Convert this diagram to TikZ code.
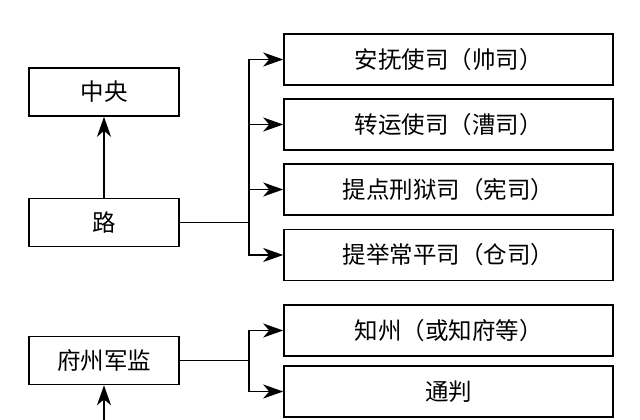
\documentclass[tikz,border=0pt]{standalone}
\usepackage{fontspec}
\newfontfamily\cjk{Noto Sans CJK SC}
\usetikzlibrary{arrows.meta}
\tikzset{
  box/.style={draw,line width=1.6pt,inner sep=0pt,font=\cjk\fontsize{23.5}{24}\selectfont},
  lbox/.style={box,minimum width=150pt,minimum height=48pt},
  rbox/.style={box,minimum width=329pt,minimum height=51pt},
  link/.style={line width=1.6pt,-{Stealth[length=20pt,width=14pt,inset=6pt]}}
}
\begin{document}
\begin{tikzpicture}[x=1pt,y=-1pt]
      \useasboundingbox (0,0) rectangle (640,420);

      % left column
      \node[lbox] (zy) at (104,92) {中央};
      \node[lbox] (lu) at (104,222.5) {路};
      \node[lbox] (fz) at (104,360.5) {府州军监};
      \coordinate (bot) at (104,421);

      % right column
      \foreach \n/\y/\t in {s1/59.5/安抚使司（帅司）, s2/124.5/转运使司（漕司）,
          s3/189.5/提点刑狱司（宪司）, s4/255/提举常平司（仓司）,
          z1/330.5/知州（或知府等）, z2/391.5/通判}{%
        \node[rbox] (\n) at (448.5,\y) {\t};
      }

      \coordinate (lb) at (249,222.5);
      \coordinate (fb) at (249,360.5);

      \draw[link] (lu) -- (zy);
      \draw[link] (bot) -- (fz);
      \draw[line width=1.6pt] (lu.east) -- (lb);
      \draw[line width=1.6pt] (fz.east) -- (fb);
      \foreach \n in {s1,s2,s3,s4}{%
        \draw[link] (lb) |- (\n.west);
      }
      \foreach \n in {z1,z2}{%
        \draw[link] (fb) |- (\n.west);
      }
    \end{tikzpicture}
\end{document}
